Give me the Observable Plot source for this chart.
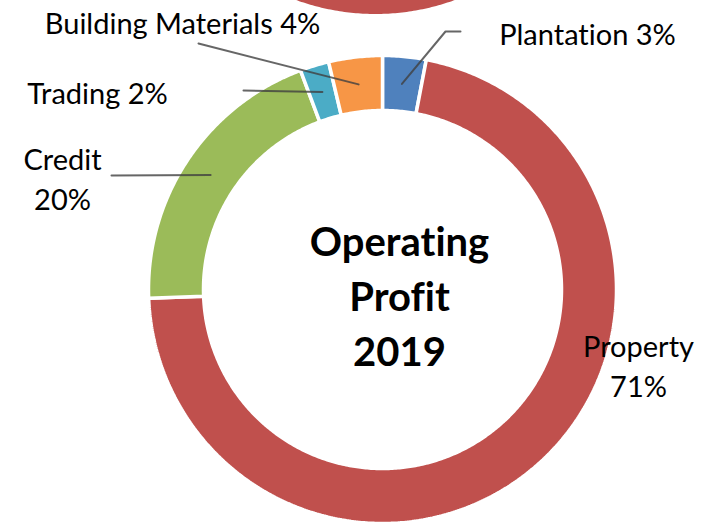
<!DOCTYPE html>
<html>
<head>
<meta charset="utf-8">
<script src="https://cdn.jsdelivr.net/npm/d3@7"></script>
<script src="https://cdn.jsdelivr.net/npm/@observablehq/plot@0.6"></script>
<style>
  html, body { margin: 0; padding: 0; background: #fff; }
  #chart svg { display: block; }
  #chart svg text { font-variant-ligatures: none; font-feature-settings: "liga" 0; }
</style>
</head>
<body>
<div id="chart"></div>
<script>
// ---- Data ----
const categories = ["Plantation", "Property", "Credit", "Trading", "Building Materials"];
const values = [3.0, 71.4, 19.9, 2.0, 3.7];
const percentLabels = ["3%", "71%", "20%", "2%", "4%"];
const colors = ["#4F81BD", "#C0504D", "#9BBB59", "#4BACC6", "#F79646"];
const centerTitle = ["Operating", "Profit", "2019"];
// neighbouring chart above (only its lower rim is visible)
const neighbourValues = [100];

// ---- Layout ----
const W = 713, H = 522;
const cx = 382, cy = 289, R = 234, r0 = 179;
const labelLayout = {
  "Plantation":         {x: 587, y: 32, elbow: [[445, 31], [460, 31]]},
  "Property":           {x: 638, y: 364, elbow: null, multi: true},
  "Credit":             {x: 62,  y: 177, elbow: [[111, 175]], multi: true},
  "Trading":            {x: 97,  y: 91,  elbow: [[243, 90]]},
  "Building Materials": {x: 182, y: 21,  elbow: [[198, 43]]}
};

function ringPoints(ccx, ccy, a0, a1, ro, ri) {
  const pts = [];
  const n = Math.max(4, Math.ceil((a1 - a0) / 0.01));
  for (let i = 0; i <= n; i++) {
    const a = a0 + (a1 - a0) * i / n;
    pts.push({x: ccx + ro * Math.sin(a), y: ccy - ro * Math.cos(a)});
  }
  for (let i = n; i >= 0; i--) {
    const a = a0 + (a1 - a0) * i / n;
    pts.push({x: ccx + ri * Math.sin(a), y: ccy - ri * Math.cos(a)});
  }
  pts.push(pts[0]);
  return pts;
}

const total = d3.sum(values);
let cum = 0;
const slices = categories.map((c, i) => {
  const a0 = cum / total * 2 * Math.PI;
  cum += values[i];
  const a1 = cum / total * 2 * Math.PI;
  return {category: c, color: colors[i], a0, a1, points: ringPoints(cx, cy, a0, a1, R, r0)};
});

const leaders = [];
slices.forEach(s => {
  const L = labelLayout[s.category];
  if (!L.elbow) return;
  const am = (s.a0 + s.a1) / 2, rm = (R + r0) / 2;
  leaders.push({category: s.category, x: cx + rm * Math.sin(am), y: cy - rm * Math.cos(am)});
  L.elbow.forEach(p => leaders.push({category: s.category, x: p[0], y: p[1]}));
});

const labels = categories.map((c, i) => {
  const L = labelLayout[c];
  return {x: L.x, y: L.y, text: c + (L.multi ? "\n" : " ") + percentLabels[i]};
});

// neighbour donut rim (top)
const nbPoints = ringPoints(375, -219, Math.PI / 2, Math.PI * 1.5 * neighbourValues[0] / 100, R, r0);

const marks = [
  Plot.line(nbPoints, {x: "x", y: "y", fill: colors[1], stroke: "white", strokeWidth: 3}),
  ...slices.map(s => Plot.line(s.points, {x: "x", y: "y", fill: s.color, stroke: "white", strokeWidth: 3.5, strokeLinejoin: "miter"})),
  Plot.line(leaders, {x: "x", y: "y", z: "category", stroke: "#404040", strokeOpacity: 0.8, strokeWidth: 2}),
  Plot.text(labels, {x: "x", y: "y", text: "text", fontSize: 29, lineHeight: 1.36, lineAnchor: "middle", textAnchor: "middle", fill: "black"}),
  Plot.text([centerTitle.join("\n")], {x: () => 399, y: () => 293, text: d => d, fontSize: 40, fontWeight: "bold", lineHeight: 1.38, lineAnchor: "middle", textAnchor: "middle", fill: "black"})
];

const chart = Plot.plot({
  width: W, height: H,
  margin: 0,
  x: {domain: [0, W], range: [0, W], axis: null},
  y: {domain: [0, H], range: [0, H], axis: null},
  style: {fontFamily: "Lato, 'Open Sans', sans-serif", background: "white"},
  marks
});
document.getElementById("chart").appendChild(chart);
</script>
</body>
</html>
